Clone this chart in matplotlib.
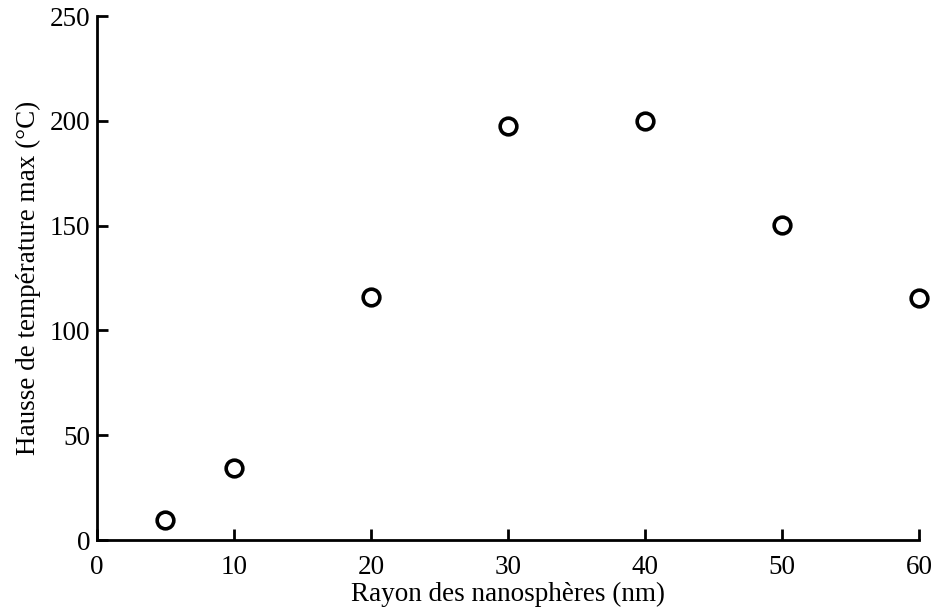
import matplotlib
matplotlib.use("Agg")
import matplotlib.pyplot as plt

radius_nm = [5, 10, 20, 30, 40, 50, 60]
temp_rise = [9.5, 34.4, 116, 197.5, 200, 150.3, 115.5]
x_ticks = [0, 10, 20, 30, 40, 50, 60]
y_ticks = [0, 50, 100, 150, 200, 250]

plt.rcParams['font.family'] = ['Liberation Serif', 'DejaVu Serif']
plt.rcParams['font.size'] = 19.5

fig = plt.figure(figsize=(9.37, 6.12), dpi=100)
ax = fig.add_axes([0.1035, 0.1176, 0.8775, 0.8562])
ax.plot(radius_nm, temp_rise, linestyle='none', marker='o', markersize=12,
        markerfacecolor='white', markeredgecolor='black', markeredgewidth=2.6,
        clip_on=False, zorder=5)
ax.set_xlim(0, 60)
ax.set_ylim(0, 250)
ax.set_xticks(x_ticks)
ax.set_yticks(y_ticks)
for s in ['top', 'right']:
    ax.spines[s].set_visible(False)
for s in ['left', 'bottom']:
    ax.spines[s].set_linewidth(2)
ax.tick_params(direction='in', length=8, width=2, labelsize=19.5)
ax.tick_params(axis='x', pad=11)
ax.tick_params(axis='y', pad=5)
ax.set_xlabel('Rayon des nanosphères (nm)', fontsize=19.5, labelpad=1)
ax.set_ylabel('Hausse de température max (°C)', fontsize=19.5, labelpad=6)
fig.savefig('out.png', dpi=100)
